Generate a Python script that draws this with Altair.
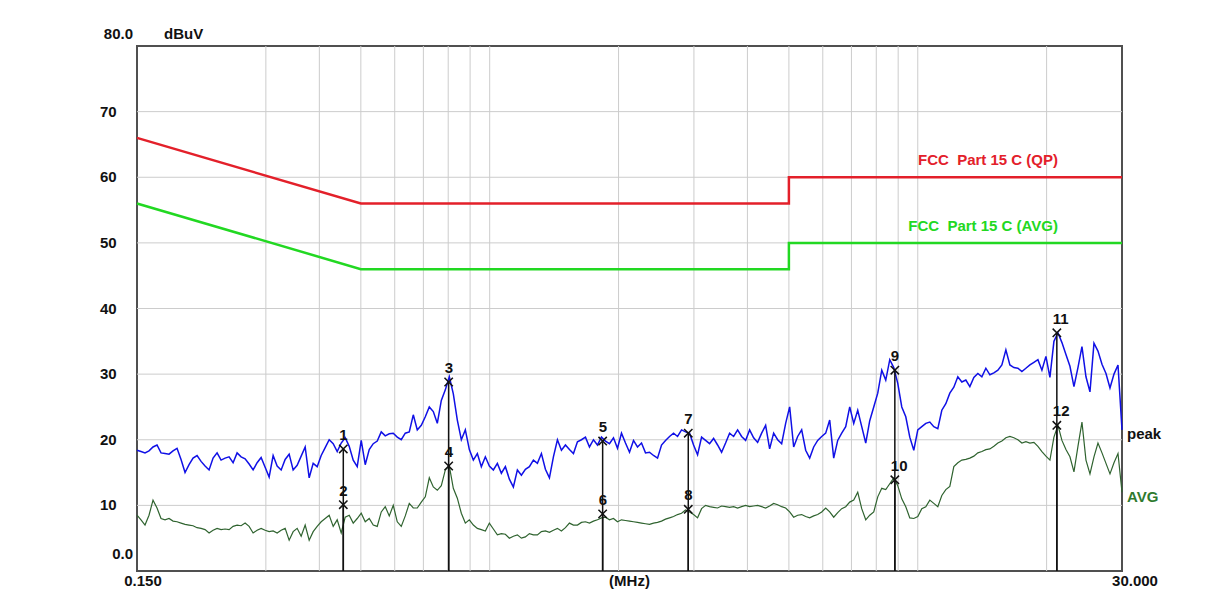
import altair as alt
import numpy as np
import pandas as pd

# ---------------- data ----------------
F_MIN, F_MAX = 0.15, 30.0

peak_dbuv = [
    18.4, 18.2, 18.0, 18.3, 18.9, 19.2, 18.0, 17.9, 17.8, 18.3,
    18.7, 17.0, 15.0, 16.2, 17.2, 17.6, 16.7, 16.0, 15.4, 17.2,
    18.0, 16.9, 17.2, 17.4, 16.5, 18.0, 17.4, 17.1, 16.3, 15.4,
    16.5, 17.3, 15.8, 14.3, 17.6, 16.0, 15.4, 17.0, 17.8, 15.4,
    16.1, 17.5, 18.9, 14.2, 16.4, 15.9, 17.6, 18.8, 20.0, 19.4,
    18.2, 19.5, 20.3, 19.0, 16.9, 15.9, 19.9, 16.2, 18.5, 19.4,
    19.8, 21.2, 20.6, 20.9, 21.0, 20.4, 20.0, 21.0, 21.2, 23.8,
    21.5, 22.2, 23.5, 25.0, 24.3, 22.5, 26.0, 27.6, 29.6, 27.0,
    23.0, 20.0, 21.5, 18.5, 16.9, 17.9, 15.9, 17.4, 16.0, 15.4,
    16.4, 14.9, 15.9, 14.0, 12.8, 15.4, 14.6, 15.5, 15.9, 16.9,
    16.4, 17.9, 15.5, 14.2, 17.4, 20.0, 18.4, 19.2, 18.5, 17.9,
    19.7, 20.0, 20.4, 18.9, 20.0, 19.2, 20.4, 19.8, 19.4, 20.3,
    18.7, 21.0, 19.5, 18.1, 19.9, 18.9, 19.5, 18.0, 18.1, 17.6,
    17.2, 19.2, 19.9, 20.5, 21.0, 20.5, 21.5, 21.2, 21.0, 19.2,
    17.7, 20.4, 19.9, 19.4, 20.2, 19.2, 18.1, 19.5, 21.0, 20.5,
    21.5, 20.5, 19.9, 21.5, 20.3, 19.6, 21.0, 22.2, 18.6, 21.0,
    20.0, 19.4, 22.5, 25.0, 18.9, 20.5, 21.5, 18.4, 17.2, 18.9,
    19.9, 20.5, 21.0, 23.0, 17.2, 19.9, 21.0, 22.0, 25.0, 22.5,
    24.5, 22.0, 19.5, 22.9, 25.0, 27.1, 30.6, 29.1, 32.2, 31.0,
    28.6, 25.0, 23.5, 20.4, 18.4, 21.5, 22.0, 22.5, 22.7, 22.0,
    21.7, 24.5, 25.5, 27.1, 28.0, 29.6, 28.8, 29.1, 28.1, 29.5,
    30.1, 29.6, 30.9, 29.9, 30.2, 30.6, 31.4, 33.7, 31.4, 31.0,
    30.9, 30.4, 30.9, 31.4, 31.8, 32.2, 30.6, 32.7, 29.5, 35.0,
    36.3, 34.8, 33.0, 31.2, 28.1, 31.0, 34.2, 29.6, 27.3, 34.7,
    33.5, 31.5, 30.1, 27.9, 30.0, 31.4, 21.5,
]

avg_dbuv = [
    8.5, 7.8, 7.0, 8.5, 10.8, 9.6, 8.0, 7.8, 8.0, 7.6,
    7.5, 7.3, 7.1, 7.0, 6.9, 6.6, 6.5, 6.3, 5.8, 6.2,
    6.5, 6.3, 6.4, 6.3, 6.8, 7.0, 6.9, 7.3, 6.8, 5.8,
    6.2, 6.5, 6.2, 6.0, 6.1, 5.8, 6.2, 6.5, 4.7, 6.0,
    6.5, 5.3, 7.0, 4.7, 6.0, 6.8, 7.5, 8.0, 8.5, 6.8,
    7.8, 5.8, 8.2, 8.5, 7.3, 8.0, 8.8, 7.5, 8.0, 7.0,
    6.8, 9.0, 9.8, 8.4, 10.0, 7.5, 6.8, 8.4, 10.3, 9.6,
    9.6, 10.5, 11.3, 14.2, 12.8, 12.3, 13.0, 15.4, 16.0, 12.6,
    11.1, 8.8, 7.3, 7.8, 7.0, 6.5, 6.3, 6.1, 7.3, 6.4,
    5.5, 5.7, 5.6, 5.0, 5.3, 5.5, 5.0, 5.2, 5.7, 5.5,
    5.5, 6.0, 6.1, 5.9, 6.2, 6.5, 6.1, 6.6, 7.3, 7.0,
    7.0, 7.4, 7.5, 7.3, 7.6, 7.8, 8.1, 8.2, 7.8, 8.0,
    7.5, 7.8, 7.7, 7.6, 7.5, 7.4, 7.3, 7.2, 7.1, 7.3,
    7.4, 7.6, 7.9, 8.1, 8.3, 8.6, 8.8, 9.3, 9.0, 8.6,
    8.1, 9.5, 10.0, 9.8, 9.7, 9.6, 9.9, 9.8, 9.7, 9.8,
    9.6, 9.8, 10.0, 9.8, 9.9, 10.0, 9.8, 9.6, 9.9, 10.3,
    10.1, 9.8, 9.6, 9.0, 8.2, 8.5, 8.6, 8.3, 8.1, 8.4,
    8.6, 9.0, 9.6, 9.0, 8.2, 8.9, 9.5, 9.8, 10.5, 10.8,
    12.0, 9.5, 7.8, 8.5, 9.0, 11.3, 12.6, 12.4, 13.3, 14.2,
    13.0, 11.0, 9.8, 8.1, 8.0, 8.3, 9.5, 9.8, 10.8, 10.3,
    9.8, 11.5, 12.4, 12.9, 15.9, 16.5, 16.9, 17.0, 17.2, 17.5,
    18.0, 18.2, 18.5, 18.6, 19.0, 19.5, 19.8, 20.3, 20.5, 20.3,
    20.0, 19.5, 19.7, 19.5, 19.6, 19.0, 18.2, 17.5, 16.9, 20.4,
    22.2, 19.9, 18.5, 17.4, 15.1, 19.0, 22.7, 16.9, 14.8, 17.4,
    19.5, 18.0, 16.4, 14.8, 16.5, 17.9, 12.0,
]

# limit lines (FCC Part 15 C conducted)
limit_freq = [0.15, 0.5, 5.0, 5.0, 30.0]
qp_limit = [66, 56, 56, 60, 60]
avg_limit = [56, 46, 46, 50, 50]

# markers
marker_no = [1, 2, 3, 4, 5, 6, 7, 8, 9, 10, 11, 12]
marker_freq = [0.455, 0.455, 0.802, 0.802, 1.836, 1.836, 2.91, 2.91, 8.84, 8.84, 21.13, 21.13]
marker_level = [18.6, 10.1, 28.8, 16.0, 19.8, 8.7, 21.0, 9.4, 30.6, 13.9, 36.3, 22.2]

# grid and tick labels
x_grid = [0.3, 0.4, 0.5, 0.6, 0.7, 0.8, 0.9, 1, 2, 3, 4, 5, 6, 7, 8, 9, 10, 20]
y_grid = [10, 20, 30, 40, 50, 60, 70]
y_mid_ticks = [10, 20, 30, 40, 50, 60, 70]
y_mid_labels = ["10", "20", "30", "40", "50", "60", "70"]

# ---------------- tables ----------------
sweep_freq = np.geomspace(F_MIN, F_MAX, len(peak_dbuv))
trace_df = pd.DataFrame({"freq": sweep_freq, "peak": peak_dbuv, "avg": avg_dbuv})
limit_df = pd.DataFrame({"freq": limit_freq, "qp": qp_limit, "av": avg_limit,
                         "idx": list(range(len(limit_freq)))})
marker_df = pd.DataFrame({"freq": marker_freq, "level": marker_level,
                          "no": [str(n) for n in marker_no], "base": [0] * len(marker_no)})
xgrid_df = pd.DataFrame({"freq": x_grid})
ygrid_df = pd.DataFrame({"v": y_grid})
ytick_df = pd.DataFrame({"v": y_mid_ticks, "lab": y_mid_labels})

W, H = 985, 525
xs = alt.Scale(type="log", domain=[F_MIN, F_MAX], nice=False)
ys = alt.Scale(domain=[0, 80], nice=False, zero=False)
FONT = "Liberation Sans"

gx = alt.Chart(xgrid_df).mark_rule(color="#cccccc", strokeWidth=1).encode(
    x=alt.X("freq:Q", scale=xs, axis=None))
gy = alt.Chart(ygrid_df).mark_rule(color="#cccccc", strokeWidth=1).encode(
    y=alt.Y("v:Q", scale=ys, axis=None))

qp_line = alt.Chart(limit_df).mark_line(color="#e3202a", strokeWidth=2.5).encode(
    x=alt.X("freq:Q", scale=xs, axis=None), y=alt.Y("qp:Q", scale=ys, axis=None),
    order="idx:Q")
av_line = alt.Chart(limit_df).mark_line(color="#22d822", strokeWidth=2.5).encode(
    x=alt.X("freq:Q", scale=xs, axis=None), y=alt.Y("av:Q", scale=ys, axis=None),
    order="idx:Q")

avg_trace = alt.Chart(trace_df).mark_line(color="#2f632f", strokeWidth=1.2).encode(
    x=alt.X("freq:Q", scale=xs, axis=None), y=alt.Y("avg:Q", scale=ys, axis=None))
peak_trace = alt.Chart(trace_df).mark_line(color="#1010e6", strokeWidth=1.5).encode(
    x=alt.X("freq:Q", scale=xs, axis=None), y=alt.Y("peak:Q", scale=ys, axis=None))

m_rules = alt.Chart(marker_df).mark_rule(color="#111111", strokeWidth=1.5).encode(
    x=alt.X("freq:Q", scale=xs, axis=None), y=alt.Y("level:Q", scale=ys, axis=None),
    y2="base:Q")
m_pts = alt.Chart(marker_df).mark_point(
    shape="M-1,-1L1,1M-1,1L1,-1", filled=False, color="#111111", strokeWidth=1.5, size=70,
    opacity=1).encode(
    x=alt.X("freq:Q", scale=xs, axis=None), y=alt.Y("level:Q", scale=ys, axis=None))
m_txt = alt.Chart(marker_df).mark_text(
    align="left", baseline="middle", dx=-4, dy=-14, font=FONT, fontSize=15,
    fontWeight="bold", color="#111111").encode(
    x=alt.X("freq:Q", scale=xs, axis=None), y=alt.Y("level:Q", scale=ys, axis=None),
    text="no:N")

def label(text, x, y, color="#111111", align="left", size=15, weight="bold"):
    return alt.Chart(pd.DataFrame({"t": [text]})).mark_text(
        align=align, baseline="middle", font=FONT, fontSize=size, fontWeight=weight,
        color=color).encode(x=alt.value(x), y=alt.value(y), text="t:N")

ytick_txt = alt.Chart(ytick_df).mark_text(
    align="left", baseline="middle", font=FONT, fontSize=15, fontWeight="bold",
    color="#111111").encode(y=alt.Y("v:Q", scale=ys, axis=None), x=alt.value(-37), text="lab:N")

texts = [
    ytick_txt,
    label("80.0", -4, -12, align="right"),
    label("dBuV", 27, -12),
    label("0.0", -4, H - 17, align="right"),
    label("0.150", 6, H + 10, align="center"),
    label("(MHz)", W / 2, H + 10, align="center"),
    label("30.000", W + 13, H + 10, align="center"),
    label("FCC\u00a0\u00a0Part 15 C (QP)", 921, 114, color="#e3202a", align="right"),
    label("FCC\u00a0\u00a0Part 15 C (AVG)", 921, 180, color="#22d822", align="right"),
    label("peak", W + 5, 388),
    label("AVG", W + 5, 451, color="#2f7a2f"),
]

chart = alt.layer(
    gx, gy, qp_line, av_line, avg_trace, peak_trace, m_rules, m_pts, m_txt, *texts
).properties(
    width=W, height=H,
    autosize=alt.AutoSizeParams(type="none"),
    padding={"left": 129, "top": 38, "right": 75, "bottom": 30},
    background="white",
).configure_view(stroke="#505050", strokeWidth=2)

chart.save("out.html", embed_options={"renderer": "svg", "actions": False})
